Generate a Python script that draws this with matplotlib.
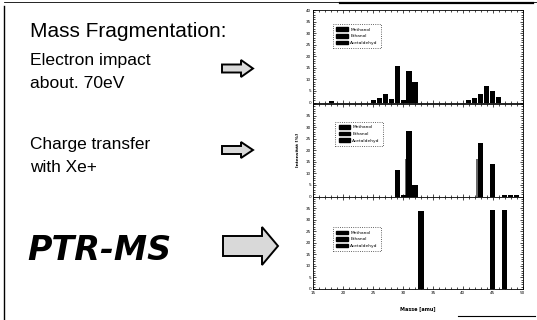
import matplotlib
matplotlib.use("Agg")
import matplotlib.pyplot as plt
from matplotlib.patches import Polygon, Patch
from matplotlib.ticker import MultipleLocator

# ---- data -------------------------------------------------------------
species = ["Methanol", "Ethanol", "Acetaldehyd"]

# electron impact (70 eV)
ei_methanol_mass = [28, 30, 31, 32]
ei_methanol_int = [1.5, 1.0, 13.5, 9.0]
ei_ethanol_mass = [18, 27, 45, 46]
ei_ethanol_int = [0.8, 3.5, 4.8, 2.5]
ei_acetaldehyd_mass = [25, 26, 29, 41, 42, 43, 44]
ei_acetaldehyd_int = [1.0, 2.0, 15.7, 1.0, 2.0, 3.6, 7.3]

# charge transfer with Xe+
ct_methanol_mass = [29, 30, 31, 32]
ct_methanol_int = [11.6, 0.5, 28.4, 4.8]
ct_ethanol_mass = [31, 43]
ct_ethanol_int = [16.4, 16.4]
ct_acetaldehyd_mass = [43, 45, 47, 48, 49]
ct_acetaldehyd_int = [23.2, 14.2, 0.7, 0.7, 0.7]

# PTR-MS (proton transfer)
ptr_methanol_mass = [33]
ptr_methanol_int = [33.6]
ptr_ethanol_mass = [47]
ptr_ethanol_int = [34.3]
ptr_acetaldehyd_mass = [45]
ptr_acetaldehyd_int = [34.3]

x_ticks = [15, 20, 25, 30, 35, 40, 45, 50]
y_ticks_top = [0, 5, 10, 15, 20, 25, 30, 35, 40]
y_ticks = [0, 5, 10, 15, 20, 25, 30, 35]

# ---- figure -----------------------------------------------------------
W, H = 537, 320
fig = plt.figure(figsize=(W / 100, H / 100), dpi=100)
fig.patch.set_facecolor("white")

bg = fig.add_axes([0, 0, 1, 1])
bg.set_xlim(0, W)
bg.set_ylim(H, 0)
bg.axis("off")

# slide frame
bg.plot([4, 4], [6, 320], color="black", lw=1.0)
bg.plot([4, 537], [2, 2], color="black", lw=0.6)
bg.plot([340, 533], [2.5, 2.5], color="black", lw=1.6)
bg.plot([458, 535], [316, 316], color="black", lw=0.8)

txt = dict(family="Liberation Sans", color="black", va="baseline", ha="left")
bg.text(30, 37, "Mass Fragmentation:", fontsize=15, **txt)
bg.text(30, 65, "Electron impact", fontsize=12.6, **txt)
bg.text(30, 88, "about. 70eV", fontsize=12.6, **txt)
bg.text(30, 149, "Charge transfer", fontsize=12.4, **txt)
bg.text(30, 172, "with Xe+", fontsize=12.4, **txt)
bg.text(27, 260, "PTR-MS", fontsize=24, family="DejaVu Sans", weight="bold",
        style="oblique", va="baseline", ha="left", color="black")


def block_arrow(x0, x1, ymid, shaft_h, head_h, head_len):
    xs = x1 - head_len
    pts = [(x0, ymid - shaft_h / 2), (xs, ymid - shaft_h / 2),
           (xs, ymid - head_h / 2), (x1, ymid), (xs, ymid + head_h / 2),
           (xs, ymid + shaft_h / 2), (x0, ymid + shaft_h / 2)]
    bg.add_patch(Polygon(pts, closed=True, facecolor="#d9d9d9",
                         edgecolor="black", lw=1.4, joinstyle="miter"))


block_arrow(222, 253, 68.5, 8, 17, 12)
block_arrow(222, 253, 150, 8, 16, 12)
block_arrow(223, 278, 246, 20, 38, 16)

# ---- spectra panels ---------------------------------------------------
left, width = 313.3 / W, 209.4 / W
panel_h = 92.5 / H


def spectrum(bottom_px, series, offsets, colors, leg_xy, yt, last=False):
    ax = fig.add_axes([left, (H - bottom_px) / H, width, panel_h])
    for (m, v), off, c in zip(series, offsets, colors):
        ax.bar([mm + off for mm in m], v, width=0.85, color=c,
               edgecolor="none", zorder=2 if c == "black" else 1)
    ax.set_xlim(15, 50)
    ax.set_ylim(0, 40)
    ax.set_xticks(x_ticks)
    ax.set_yticks(yt)
    ax.xaxis.set_minor_locator(MultipleLocator(1))
    ax.yaxis.set_minor_locator(MultipleLocator(1))
    ax.tick_params(which="both", direction="in", top=True, right=True,
                   width=0.5, labelsize=3, pad=1.5)
    ax.tick_params(which="major", length=2.5)
    ax.tick_params(which="minor", length=1.2)
    for s in ax.spines.values():
        s.set_linewidth(0.6)
    if not last:
        ax.tick_params(labelbottom=False)
    handles = [Patch(facecolor="black", edgecolor="black") for _ in species]
    leg = ax.legend(handles, species, loc="upper left",
                    bbox_to_anchor=leg_xy, fontsize=3.2, frameon=True,
                    fancybox=False, handlelength=2.6, handleheight=0.9,
                    labelspacing=0.5, borderpad=0.7, handletextpad=0.5)
    fr = leg.get_frame()
    fr.set_linestyle(":")
    fr.set_edgecolor("black")
    fr.set_linewidth(0.6)
    return ax


ax1 = spectrum(102.5,
               [(ei_methanol_mass, ei_methanol_int),
                (ei_ethanol_mass, ei_ethanol_int),
                (ei_acetaldehyd_mass, ei_acetaldehyd_int)],
               [0, 0, 0], ["black", "black", "black"], (0.085, 0.87),
               y_ticks_top)

ax2 = spectrum(196.5,
               [(ct_methanol_mass, ct_methanol_int),
                (ct_ethanol_mass, ct_ethanol_int),
                (ct_acetaldehyd_mass, ct_acetaldehyd_int)],
               [0, -0.3, 0], ["black", "#6a6a6a", "black"], (0.095, 0.83),
               y_ticks)
ax2.set_ylabel("Intensität [%]", fontsize=3.2, weight="bold", labelpad=4)

ax3 = spectrum(289,
               [(ptr_methanol_mass, ptr_methanol_int),
                (ptr_ethanol_mass, ptr_ethanol_int),
                (ptr_acetaldehyd_mass, ptr_acetaldehyd_int)],
               [0, 0, 0], ["black", "black", "black"], (0.085, 0.69),
               y_ticks, last=True)
ax3.set_xlabel("Masse [amu]", fontsize=3.5, weight="bold", labelpad=8)

fig.savefig("out.png", dpi=100, facecolor="white")
